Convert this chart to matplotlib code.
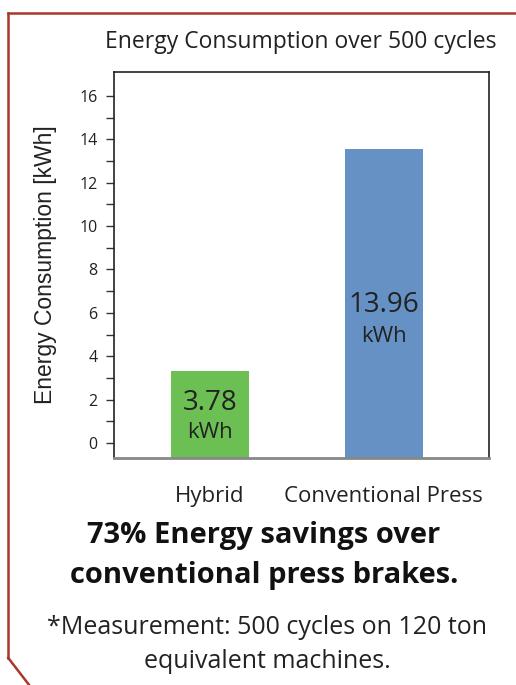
import matplotlib
matplotlib.use("Agg")
import matplotlib.pyplot as plt
from matplotlib.lines import Line2D

# data (bar heights as drawn, labels as printed)
categories = ["Hybrid", "Conventional Press"]
drawn_values = [3.33, 13.56]
value_labels = ["3.78", "13.96"]
bar_colors = ["#6BBF53", "#6591C5"]
yticks_major = [0, 2, 4, 6, 8, 10, 12, 14, 16]
yticks_minor = [1, 3, 5, 7, 9, 11, 13, 15]

W, H = 516, 685
DPI = 100
fig = plt.figure(figsize=(W / DPI, H / DPI), dpi=DPI)
fig.patch.set_facecolor("white")

FONT = "Open Sans"
TXT = "#222222"

# axes box in pixel coords: left 114, right 489, top 72, bottom 458
ax = fig.add_axes([114 / W, 1 - 458 / H, (489 - 114) / W, (458 - 72) / H])
ybot = -0.69
x = list(range(len(categories)))
ax.bar(x, [v - ybot for v in drawn_values], bottom=ybot, width=0.448,
       color=bar_colors, edgecolor="none", zorder=2)
ax.set_xlim(-0.55, 1.605)
ax.set_ylim(ybot, 17.1)

ax.set_yticks(yticks_major)
ax.set_yticks(yticks_minor, minor=True)
ax.set_yticklabels([str(t) for t in yticks_major], fontsize=11.5, family=FONT, color=TXT)
ax.tick_params(axis="y", which="both", direction="out", length=6, width=1, color="#333333", pad=6)
ax.set_xticks(x)
ax.set_xticklabels(categories, fontsize=16, family=FONT, color=TXT)
ax.tick_params(axis="x", length=0, pad=20)

for s in ("left", "top", "right"):
    ax.spines[s].set_color("#222222")
    ax.spines[s].set_linewidth(1.2)
ax.spines["bottom"].set_color("#888888")
ax.spines["bottom"].set_linewidth(2)

ax.set_ylabel("Energy Consumption [kWh]", fontsize=16.5, family="Liberation Sans", color=TXT, labelpad=16)

# value labels inside bars
label_y = [(403, 432), (305, 336)]
for i, (lab, (y1, y2)) in enumerate(zip(value_labels, label_y)):
    px = ax.transData.transform((x[i], 0))[0]
    fig.text(px / W, 1 - y1 / H, lab, ha="center", va="center", fontsize=20, family=FONT, color=TXT)
    fig.text(px / W, 1 - y2 / H, "kWh", ha="center", va="center", fontsize=16, family=FONT, color=TXT)

fig.text(301 / W, 1 - 42 / H, "Energy Consumption over 500 cycles", ha="center", va="center",
         fontsize=16.5, family=FONT, color=TXT)

fig.text(264 / W, 1 - 535 / H, "73% Energy savings over", ha="center", va="center",
         fontsize=21, family=FONT, weight="bold", color="#111111")
fig.text(264 / W, 1 - 575 / H, "conventional press brakes.", ha="center", va="center",
         fontsize=21, family=FONT, weight="bold", color="#111111")

fig.text(267 / W, 1 - 628 / H, "*Measurement: 500 cycles on 120 ton", ha="center", va="center",
         fontsize=18, family=FONT, color=TXT)
fig.text(267 / W, 1 - 662 / H, "equivalent machines.", ha="center", va="center",
         fontsize=18, family=FONT, color=TXT)

# red-brown frame with cut corner (pixel coords, y measured from top)
border = "#A8382A"
frame = [((8.3, 12.7), (W + 5, 12.7)),
         ((8.3, 12.7), (8.3, 658)),
         ((8.3, 658), (33, 690))]
for (x0, y0), (x1, y1) in frame:
    fig.add_artist(Line2D([x0 / W, x1 / W], [1 - y0 / H, 1 - y1 / H], color=border,
                          linewidth=1.8, solid_capstyle="projecting", transform=fig.transFigure))

fig.savefig("out.png", dpi=DPI)
